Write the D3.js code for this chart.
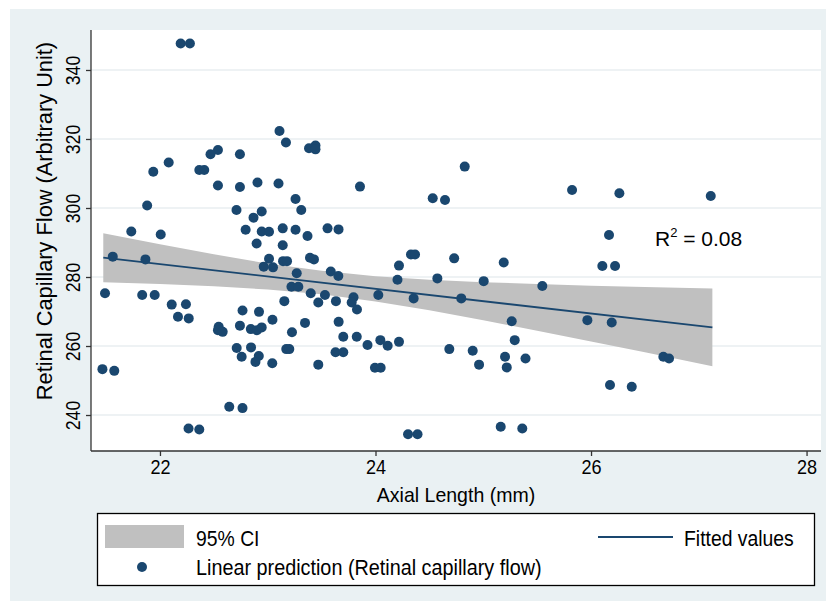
<!DOCTYPE html>
<html>
<head>
<meta charset="utf-8">
<script src="https://cdn.jsdelivr.net/npm/d3@7"></script>
<style>
html,body{margin:0;padding:0;background:#ffffff;}
svg{display:block;}
</style>
</head>
<body>
<svg id="chart" width="826" height="606"></svg>
<script>
// ---- data ----
const axialLength = [22.192,22.278,23.109,23.169,23.383,23.443,23.443,22.538,22.469,22.742,
22.081,21.938,22.365,22.411,22.538,22.742,22.905,23.100,23.856,24.828,
24.531,24.645,25.824,26.263,27.111,23.258,23.311,22.710,22.944,22.868,
21.881,21.734,22.007,22.795,22.944,23.012,23.139,23.258,23.369,23.555,
23.657,22.897,23.139,21.562,21.865,23.012,22.963,23.049,23.142,23.179,
23.392,23.429,23.585,23.655,23.269,24.329,24.367,24.218,24.730,25.190,
24.204,24.574,25.004,25.548,26.167,26.105,26.223,21.490,21.835,21.951,
22.109,22.241,22.167,22.267,22.545,22.538,22.582,22.766,22.919,22.742,
22.843,22.900,22.944,23.044,23.154,23.220,23.284,23.399,23.469,23.531,
23.633,23.346,23.225,23.658,23.796,23.779,23.828,24.026,24.354,24.796,
23.701,23.826,23.926,24.045,24.113,24.218,22.712,22.758,22.845,22.917,
22.886,23.042,23.172,23.200,23.469,23.629,23.701,23.995,24.048,21.466,
21.576,22.643,22.766,22.265,22.365,24.302,24.390,25.162,25.362,25.264,
25.292,24.685,24.902,24.961,25.202,25.218,25.392,25.966,26.192,26.671,
26.724,26.176,26.378];
const capillaryFlow = [347.7,347.7,322.3,319.0,317.3,318.1,317.0,316.8,315.6,315.6,
313.2,310.5,311.0,311.0,306.5,306.1,307.4,307.1,306.2,312.0,
302.8,302.3,305.2,304.3,303.5,302.6,299.4,299.4,299.0,297.2,
300.7,293.2,292.3,293.7,293.2,293.1,294.1,293.7,291.9,294.1,
293.8,289.7,289.2,285.9,285.1,285.3,283.0,282.8,284.6,284.6,
285.6,285.1,281.6,280.3,281.1,286.5,286.5,283.3,285.4,284.2,
279.2,279.6,278.8,277.4,292.2,283.2,283.2,275.3,274.8,274.8,
272.0,272.1,268.5,268.0,265.6,264.6,264.1,270.3,269.9,265.9,
264.9,264.6,265.4,267.6,273.0,277.2,277.2,275.3,272.6,274.8,
273.0,266.7,264.0,267.0,274.1,272.6,270.6,274.8,273.8,273.8,
262.7,262.7,260.3,261.7,260.1,261.2,259.4,256.9,259.6,257.1,
255.4,255.0,259.1,259.1,254.6,258.2,258.2,253.7,253.7,253.3,
252.8,242.4,242.0,236.1,235.8,234.4,234.4,236.6,236.1,267.2,
261.7,259.1,258.6,254.6,256.9,253.8,256.4,267.5,266.8,256.9,
256.4,248.7,248.2];

const ciX    = [21.474, 22, 22.5, 23, 23.5, 24, 24.5, 25, 25.5, 26, 26.5, 27.126];
const ciLow  = [278.5, 278.0, 277.3, 276.4, 275.0, 272.9, 270.4, 267.5, 264.4, 261.3, 258.2, 254.1];
const ciHigh = [292.7, 289.5, 286.6, 283.9, 281.8, 280.2, 279.2, 278.5, 278.0, 277.5, 277.1, 276.7];

const fitX = [21.474, 27.126];
const fitY = [285.6, 265.4];

const xTicks = [22, 24, 26, 28];
const yTicks = [240, 260, 280, 300, 320, 340];

const xTitle = "Axial Length (mm)";
const yTitle = "Retinal Capillary Flow (Arbitrary Unit)";
const legendLabels = ["95% CI", "Fitted values", "Linear prediction (Retinal capillary flow)"];
const r2Label = {base: "R", sup: "2", rest: " = 0.08"};

// ---- drawing ----
const svg = d3.select("#chart");
const navy = "#1a476f";
const font = "'Liberation Sans',Arial,sans-serif";

// condense a text horizontally (the reference uses a narrow face)
function condense(sel, factor) {
  sel.each(function () {
    const len = this.getComputedTextLength();
    d3.select(this).attr("textLength", len * factor).attr("lengthAdjust", "spacingAndGlyphs");
  });
  return sel;
}

const plot = {left: 91, right: 821, top: 30, bottom: 451};

const x = d3.scaleLinear().domain([21.36, 28.134]).range([plot.left, plot.right]);
const y = d3.scaleLinear().domain([229.57, 351.59]).range([plot.bottom, plot.top]);

// outer graph region
svg.append("rect").attr("x", 10).attr("y", 9).attr("width", 816).attr("height", 592)
  .attr("fill", "#eaf1f3");

// plot region
svg.append("rect").attr("x", plot.left).attr("y", plot.top)
  .attr("width", plot.right - plot.left).attr("height", plot.bottom - plot.top)
  .attr("fill", "#ffffff");

// gridlines
svg.append("g").selectAll("line").data(yTicks).join("line")
  .attr("x1", plot.left).attr("x2", plot.right)
  .attr("y1", d => y(d)).attr("y2", d => y(d))
  .attr("stroke", "#e8eef0").attr("stroke-width", 1.5);

// CI band
const area = d3.area()
  .x((d, i) => x(ciX[i]))
  .y0((d, i) => y(ciLow[i]))
  .y1((d, i) => y(ciHigh[i]));
svg.append("path").datum(ciX).attr("d", area).attr("fill", "#c0c0c0");

// fitted line
const line = d3.line().x((d, i) => x(fitX[i])).y((d, i) => y(fitY[i]));
svg.append("path").datum(fitX).attr("d", line)
  .attr("fill", "none").attr("stroke", navy).attr("stroke-width", 1.8);

// points
svg.append("g").selectAll("circle").data(axialLength).join("circle")
  .attr("cx", d => x(d)).attr("cy", (d, i) => y(capillaryFlow[i]))
  .attr("r", 5).attr("fill", navy);

// axes
const xAxis = d3.axisBottom(x).tickValues(xTicks).tickSize(5).tickPadding(3).tickFormat(d3.format("d"));
const gx = svg.append("g").attr("transform", `translate(0,${plot.bottom})`).call(xAxis);
gx.select(".domain").attr("stroke", "#333").attr("stroke-width", 1.3)
  .attr("d", `M${plot.left},0H${plot.right}`);
gx.selectAll(".tick line").attr("stroke", "#333").attr("stroke-width", 1.3);
gx.selectAll(".tick text").attr("font-family", font).attr("font-size", 21).attr("fill", "#000");
condense(gx.selectAll(".tick text"), 0.86);

const yAxis = d3.axisLeft(y).tickValues(yTicks).tickSize(5).tickPadding(0).tickFormat(d3.format("d"));
const gy = svg.append("g").attr("transform", `translate(${plot.left},0)`).call(yAxis);
gy.select(".domain").attr("stroke", "#333").attr("stroke-width", 1.3)
  .attr("d", `M0,${plot.top}V${plot.bottom}`);
gy.selectAll(".tick line").attr("stroke", "#333").attr("stroke-width", 1.3);
gy.selectAll(".tick text")
  .attr("font-family", font).attr("font-size", 21).attr("fill", "#000")
  .attr("x", 0).attr("dy", null).attr("y", 0)
  .attr("text-anchor", "middle")
  .attr("transform", "translate(-11,0) rotate(-90)");
condense(gy.selectAll(".tick text"), 0.84);

// axis titles
condense(svg.append("text").attr("x", 456).attr("y", 502).attr("text-anchor", "middle")
  .attr("font-family", font).attr("font-size", 21).text(xTitle), 0.93);
condense(svg.append("text").attr("transform", "translate(52,221) rotate(-90)").attr("text-anchor", "middle")
  .attr("font-family", font).attr("font-size", 22).text(yTitle), 0.99);

// R^2 annotation
const r2 = svg.append("text").attr("x", 655).attr("y", 246).attr("font-family", font).attr("font-size", 21);
r2.append("tspan").text(r2Label.base);
r2.append("tspan").attr("font-size", 13).attr("dy", -9).text(r2Label.sup);
r2.append("tspan").attr("dy", 9).text(r2Label.rest);

// legend
const lg = svg.append("g");
lg.append("rect").attr("x", 97.5).attr("y", 513.5).attr("width", 717).attr("height", 72)
  .attr("fill", "#fff").attr("stroke", "#000").attr("stroke-width", 1.3);
lg.append("rect").attr("x", 105).attr("y", 525).attr("width", 79).attr("height", 23).attr("fill", "#c0c0c0");
condense(lg.append("text").attr("x", 196).attr("y", 546).attr("font-family", font).attr("font-size", 22).text(legendLabels[0]), 0.88);
lg.append("line").attr("x1", 598).attr("x2", 673).attr("y1", 537).attr("y2", 537)
  .attr("stroke", navy).attr("stroke-width", 1.8);
condense(lg.append("text").attr("x", 684).attr("y", 546).attr("font-family", font).attr("font-size", 22).text(legendLabels[1]), 0.88);
lg.append("circle").attr("cx", 142).attr("cy", 567).attr("r", 5).attr("fill", navy);
condense(lg.append("text").attr("x", 196).attr("y", 575).attr("font-family", font).attr("font-size", 22).text(legendLabels[2]), 0.9);
</script>
</body>
</html>
